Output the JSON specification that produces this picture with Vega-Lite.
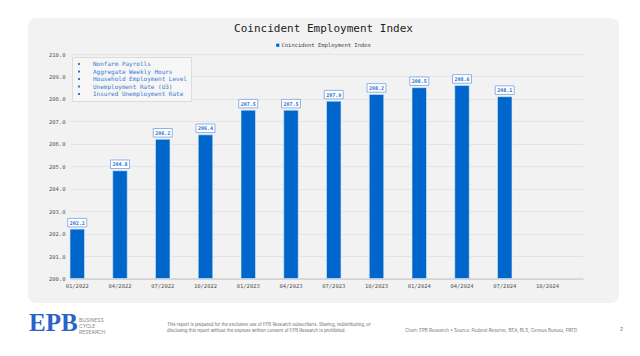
{
  "$schema": "https://vega.github.io/schema/vega-lite/v6.json",
  "background": "white",
  "padding": {"left": 28, "top": 18, "right": 10, "bottom": 0},
  "spacing": 8,
  "config": {"view": {"stroke": null}},
  "vconcat": [
    {
      "width": 591,
      "height": 285,
      "view": {"fill": "#f2f2f2", "cornerRadius": 8, "stroke": null},
      "title": {"text": "Coincident Employment Index", "font": "DejaVu Sans Mono", "fontSize": 11, "fontWeight": "normal", "color": "#222222", "anchor": "middle", "offset": -15.5},
      "data": {"values": [
        {"date": "01/2022", "value": 202.2, "series": "Coincident Employment Index"},
        {"date": "04/2022", "value": 204.8, "series": "Coincident Employment Index"},
        {"date": "07/2022", "value": 206.2, "series": "Coincident Employment Index"},
        {"date": "10/2022", "value": 206.4, "series": "Coincident Employment Index"},
        {"date": "01/2023", "value": 207.5, "series": "Coincident Employment Index"},
        {"date": "04/2023", "value": 207.5, "series": "Coincident Employment Index"},
        {"date": "07/2023", "value": 207.9, "series": "Coincident Employment Index"},
        {"date": "10/2023", "value": 208.2, "series": "Coincident Employment Index"},
        {"date": "01/2024", "value": 208.5, "series": "Coincident Employment Index"},
        {"date": "04/2024", "value": 208.6, "series": "Coincident Employment Index"},
        {"date": "07/2024", "value": 208.1, "series": "Coincident Employment Index"},
        {"date": "10/2024", "value": null, "series": "Coincident Employment Index"}
      ]},
      "encoding": {
        "x": {"field": "date", "type": "ordinal",
          "scale": {"domain": ["01/2022","04/2022","07/2022","10/2022","01/2023","04/2023","07/2023","10/2023","01/2024","04/2024","07/2024","10/2024"],
            "range": [42, 555], "paddingInner": 0.661, "paddingOuter": 0.3305, "align": 0},
          "axis": {"title": null, "labelAngle": 0, "offset": -24.5, "domainColor": "#c4c4c4", "domainWidth": 1, "ticks": false, "labelPadding": 4.5, "labelFontSize": 5.5, "labelFont": "DejaVu Sans Mono", "labelColor": "#555555", "grid": false}},
        "y": {"field": "value", "type": "quantitative",
          "scale": {"domain": [200, 210], "range": [260.5, 36], "zero": false, "nice": false},
          "axis": {"title": null, "offset": -42, "values": [200,201,202,203,204,205,206,207,208,209,210], "format": ".1f", "domain": false, "ticks": false, "labelPadding": 5, "labelFontSize": 5.5, "labelFont": "DejaVu Sans Mono", "labelColor": "#555555", "gridColor": "#e0e0e0", "gridWidth": 0.8}}
      },
      "layer": [
        {
          "mark": {"type": "bar", "stroke": "#dfe9f7", "strokeWidth": 0.6},
          "encoding": {
            "y2": {"datum": 200},
            "color": {"field": "series", "type": "nominal", "scale": {"range": ["#0066cc"]},
              "legend": {"orient": "none", "legendX": 247, "legendY": 24.5, "title": null, "symbolType": "square", "symbolSize": 10, "symbolStrokeWidth": 0, "labelFontSize": 5.5, "labelFont": "DejaVu Sans Mono", "labelColor": "#444444", "labelOffset": 1, "padding": 0}}
          }
        },
        {
          "mark": {"type": "point", "shape": "M-1,-0.45H1V0.45H-1Z", "size": 361, "filled": true, "color": "#ffffff", "stroke": "#8fb3e6", "strokeWidth": 1, "opacity": 1, "yOffset": -6.5}
        },
        {
          "mark": {"type": "text", "font": "DejaVu Sans Mono", "fontSize": 5, "fontWeight": "bold", "color": "#2e6fd1", "baseline": "middle", "yOffset": -6.5},
          "encoding": {"text": {"field": "value", "type": "quantitative", "format": ".1f"}}
        },
        {
          "data": {"values": [
            {"item": "Nonfarm Payrolls"},
            {"item": "Aggregate Weekly Hours"},
            {"item": "Household Employment Level"},
            {"item": "Unemployment Rate (U3)"},
            {"item": "Insured Unemployment Rate"}
          ]},
          "mark": {"type": "point", "filled": true, "color": "#3a78d4", "opacity": 0},
          "encoding": {
            "x": null, "y": null,
            "shape": {"field": "item", "type": "nominal",
              "scale": {"domain": ["Nonfarm Payrolls","Aggregate Weekly Hours","Household Employment Level","Unemployment Rate (U3)","Insured Unemployment Rate"], "range": ["square","square","square","square","square"]},
              "legend": {"orient": "none", "legendX": 44, "legendY": 39, "title": null, "fillColor": "#f6f6f6", "strokeColor": "#dcdcdc", "padding": 4, "symbolSize": 4, "symbolFillColor": "#3a78d4", "symbolStrokeColor": "#3a78d4", "symbolStrokeWidth": 0, "symbolOpacity": 1, "labelColor": "#3a78d4", "labelFont": "DejaVu Sans Mono", "labelFontSize": 6, "labelOffset": 11, "rowPadding": 1.5}}
          }
        }
      ]
    },
    {
      "spacing": 0,
      "hconcat": [
        {"width": 51, "height": 1, "mark": {"type": "rule", "opacity": 0}, "encoding": {},
          "title": {"text": "EPB", "font": "Liberation Serif", "fontSize": 25, "fontWeight": "bold", "color": "#2a63c8", "anchor": "start", "offset": 0, "dx": 1, "dy": 2}},
        {"width": 88, "height": 1, "mark": {"type": "rule", "opacity": 0}, "encoding": {},
          "title": {"text": ["BUSINESS", "CYCLE", "RESEARCH"], "font": "Inter", "fontSize": 5, "fontWeight": "normal", "color": "#8a8a8a", "lineHeight": 5.8, "anchor": "start", "offset": 0, "dy": 1}},
        {"width": 238, "height": 1, "mark": {"type": "rule", "opacity": 0}, "encoding": {},
          "title": {"text": ["This report is prepared for the exclusive use of EPB Research subscribers. Sharing, redistributing, or", "disclosing this report without the express written consent of EPB Research is prohibited."], "font": "Inter", "fontSize": 4.3, "fontWeight": "normal", "color": "#666666", "lineHeight": 6, "anchor": "start", "offset": 0, "dy": -1}},
        {"width": 215, "height": 1, "mark": {"type": "rule", "opacity": 0}, "encoding": {},
          "title": {"text": "Chart: EPB Research  •  Source: Federal Reserve, BEA, BLS, Census Bureau, FRED", "font": "Inter", "fontSize": 4.5, "fontWeight": "normal", "color": "#777777", "anchor": "start", "offset": 0, "dy": -2}},
        {"width": 1, "height": 1, "mark": {"type": "rule", "opacity": 0}, "encoding": {},
          "title": {"text": "2", "font": "Inter", "fontSize": 5, "fontWeight": "normal", "color": "#777777", "anchor": "start", "offset": 0, "dy": -2}}
      ]
    }
  ]
}
